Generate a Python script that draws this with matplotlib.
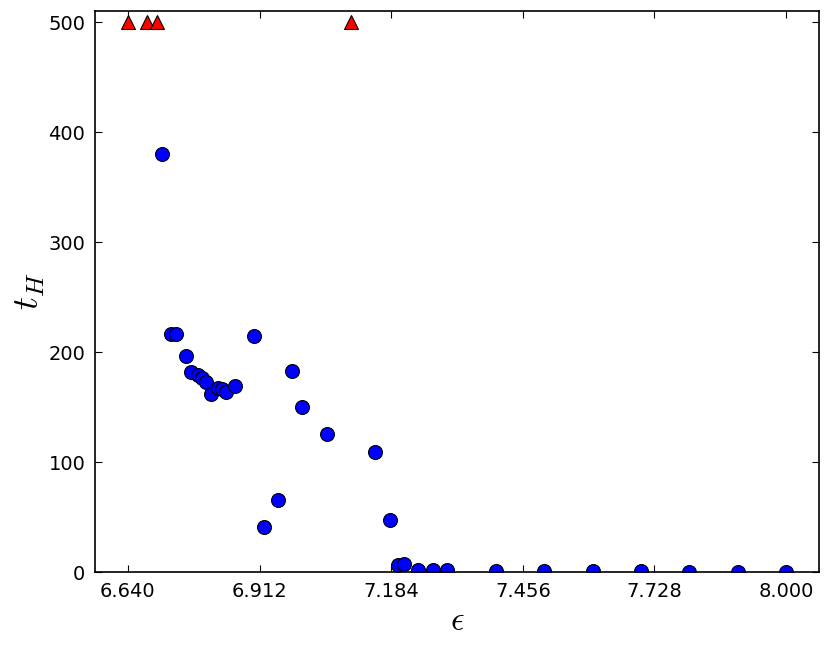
import matplotlib
matplotlib.use('Agg')
import matplotlib.pyplot as plt

plt.rcParams['mathtext.fontset'] = 'cm'
plt.rcParams['font.family'] = ['DejaVu Sans']

# runs that never hit the threshold (capped at 500)
eps_capped = [6.64, 6.68, 6.70, 7.10]
t_capped = [500, 500, 500, 500]

# measured t_H
eps = [6.71, 6.73, 6.74, 6.76, 6.77, 6.784, 6.793, 6.802, 6.811, 6.826,
       6.834, 6.842, 6.861, 6.901, 6.921, 6.951, 6.980, 7.000, 7.051, 7.150,
       7.181, 7.199, 7.210, 7.240, 7.271, 7.300, 7.400, 7.500, 7.600, 7.700,
       7.800, 7.900, 8.000]
t_H = [380, 216, 216, 196, 182, 179, 176, 173, 162, 167.5,
       166, 164, 169, 214.5, 40.6, 65.2, 182.7, 149.7, 125.7, 108.8,
       47.3, 6.4, 7.3, 2.0, 1.8, 1.5, 1.0, 0.8, 0.6, 0.5,
       0.4, 0.3, 0.3]

xticks = [6.640, 6.912, 7.184, 7.456, 7.728, 8.000]
yticks = [0, 100, 200, 300, 400, 500]

fig = plt.figure(figsize=(8.31, 6.49), dpi=100)
ax = fig.add_axes([0.1143, 0.1186, 0.8713, 0.8644])

ax.plot(eps, t_H, 'o', color='blue', mec='black', mew=0.8, ms=10)
ax.plot(eps_capped, t_capped, '^', color='red', mec='black', mew=0.8, ms=10.5)

ax.set_xlim(6.572, 8.068)
ax.set_ylim(0, 510)
ax.set_xticks(xticks)
ax.set_xticklabels(['%.3f' % v for v in xticks])
ax.set_yticks(yticks)
ax.tick_params(direction='in', top=True, right=True, length=5, width=0.8,
               labelsize=14, pad=7)
for s in ax.spines.values():
    s.set_linewidth(1.2)

ax.set_xlabel(r'$\epsilon$', fontsize=24, labelpad=2)
ax.set_ylabel(r'$t_H$', fontsize=26, labelpad=1)

fig.savefig('out.png', dpi=100)
